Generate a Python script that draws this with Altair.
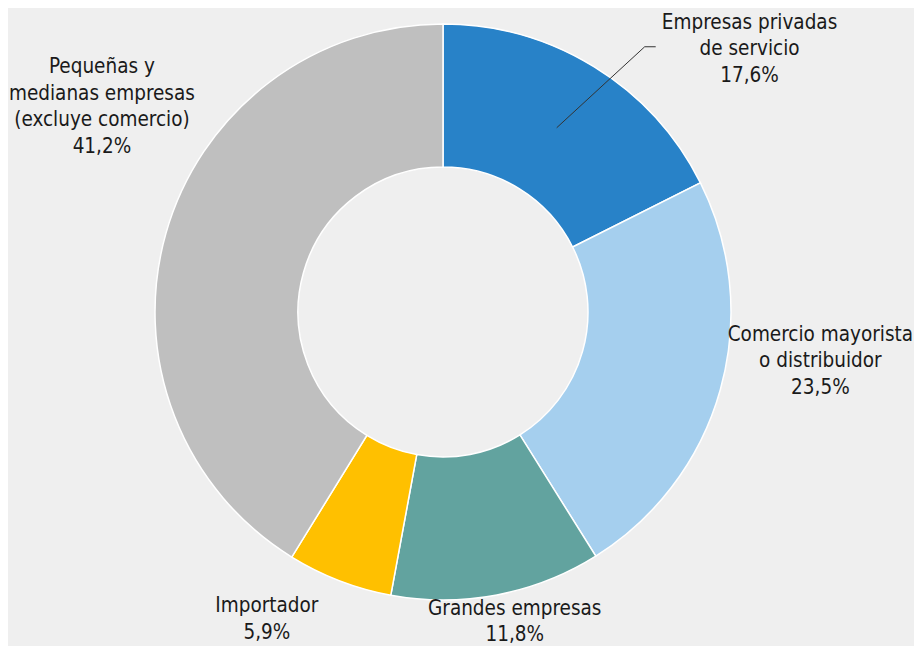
import math
import altair as alt
import pandas as pd

# ---- data ----
categories = [
    "Empresas privadas de servicio",
    "Comercio mayorista o distribuidor",
    "Grandes empresas",
    "Importador",
    "Pequeñas y medianas empresas (excluye comercio)",
]
label_text = [
    "Empresas privadas\nde servicio\n17,6%",
    "Comercio mayorista\no distribuidor\n23,5%",
    "Grandes empresas\n11,8%",
    "Importador\n5,9%",
    "Pequeñas y\nmedianas empresas\n(excluye comercio)\n41,2%",
]
values = [17.6, 23.5, 11.8, 5.9, 41.2]
colors = ["#2882c8", "#a5cfee", "#62a39f", "#ffc000", "#bfbfbf"]

df = pd.DataFrame({
    "cat": categories,
    "label": label_text,
    "value": values,
    "order": list(range(len(values))),
})

# ---- layout ----
W, H = 870, 608
CX, CY = W / 2, H / 2
R_OUT, R_IN = 288, 145
R_LAB = 340
FONT = "Liberation Sans Narrow, DejaVu Sans Condensed, sans-serif"
# label nudges (annotation layout)
nudges = [(128, 0), (50, -69), (8, -37), (-54, -23), (-14, -152)]

color_scale = alt.Scale(domain=categories, range=colors)

base = alt.Chart(df).encode(
    theta=alt.Theta("value:Q", stack=True),
    order=alt.Order("order:Q"),
)

arcs = base.mark_arc(radius=R_OUT, radius2=R_IN, stroke="white", strokeWidth=1.5).encode(
    color=alt.Color("cat:N", scale=color_scale, legend=None)
)

layers = [arcs]
for i, (dx, dy) in enumerate(nudges):
    t = base.mark_text(
        radius=R_LAB, dx=dx, dy=dy, font=FONT, fontSize=20.5, lineHeight=26.5,
        lineBreak="\n", align="center", baseline="middle", color="#1a1a1a",
    ).encode(
        text=alt.condition(alt.datum.order == i, "label:N", alt.value(""))
    )
    layers.append(t)

# leader line for first slice, starting at the ring middle of its mid angle
mid0 = (values[0] / 2) / sum(values) * 2 * math.pi
r_mid = (R_OUT + R_IN) / 2
sx, sy = CX + r_mid * math.sin(mid0), CY - r_mid * math.cos(mid0)
ex, ey = sx + 88, sy - 81
fx = ex + 11
leader1 = alt.Chart(df.head(1)).mark_rule(color="#333333", strokeWidth=1).encode(
    x=alt.value(sx), y=alt.value(sy), x2=alt.value(ex), y2=alt.value(ey)
)
leader2 = alt.Chart(df.head(1)).mark_rule(color="#333333", strokeWidth=1).encode(
    x=alt.value(ex), y=alt.value(ey), x2=alt.value(fx), y2=alt.value(ey)
)
layers += [leader1, leader2]

chart = alt.layer(*layers).properties(
    width=W, height=H,
    autosize=alt.AutoSizeParams(type="none"),
    padding={"left": 0, "top": 0, "right": 36, "bottom": 30},
    background="#efefef",
).configure_view(stroke=None)

chart.save("out.html", embed_options={"renderer": "svg", "actions": False})
